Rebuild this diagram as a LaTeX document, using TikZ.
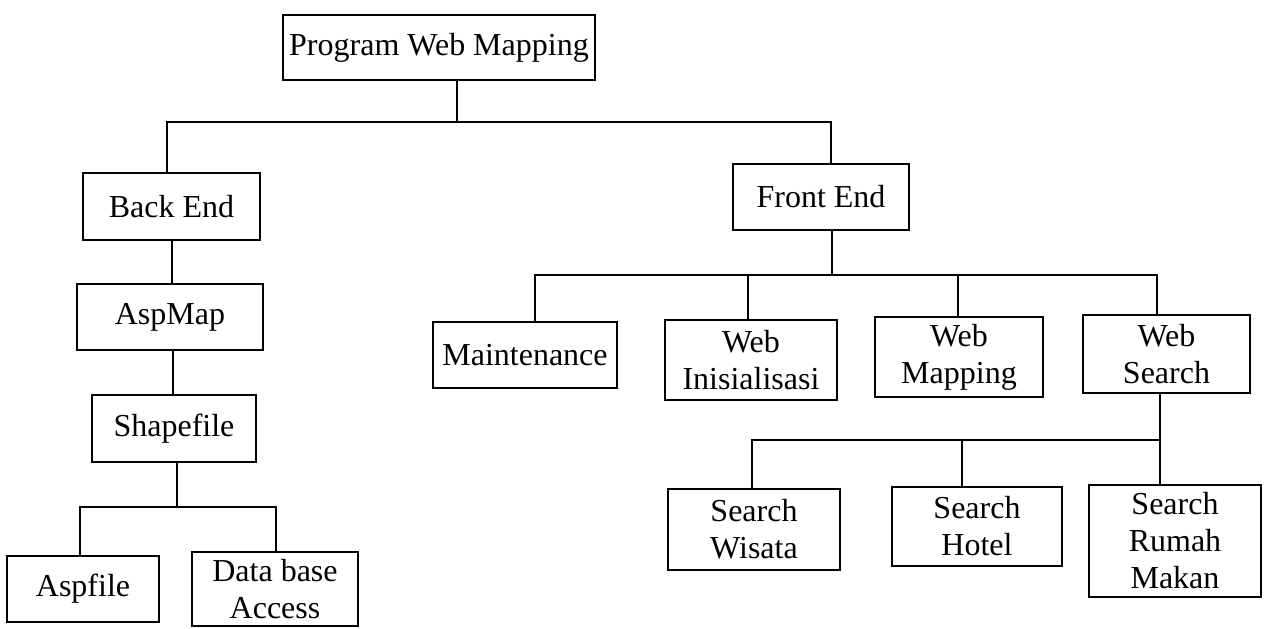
\documentclass[tikz,border=0pt]{standalone}
\usepackage{fontspec}
\setmainfont{Liberation Serif}
\usepackage{tikz}

\begin{document}
\begin{tikzpicture}[y=0.5pt, x=0.5pt, yscale=-1, inner sep=0pt, outer sep=0pt,
  box/.style={draw=black, line width=1.1pt, align=center,
    font=\fontsize{16}{18.5}\selectfont},
  wire/.style={draw=black, line width=1.1pt, line join=miter, line cap=butt}]
  \useasboundingbox (0,0) rectangle (1265,628);

  % boxes
  \node[box, minimum width=156pt, minimum height=32.5pt] (prog) at (439,47.5) {Program Web Mapping};
  \node[box, minimum width=88.5pt, minimum height=33.5pt] (backend) at (171.5,206.5) {Back End};
  \node[box, minimum width=88pt, minimum height=33pt] (frontend) at (821,197) {Front End};
  \node[box, minimum width=93pt, minimum height=33pt] (aspmap) at (170,317) {AspMap};
  \node[box, minimum width=82pt, minimum height=33.5pt] (shapefile) at (174,428.5) {Shapefile};
  \node[box, minimum width=76pt, minimum height=33pt] (aspfile) at (83,589) {Aspfile};
  \node[box, minimum width=83pt, minimum height=37pt] (database) at (275,589) {Data base\\Access};
  \node[box, minimum width=92pt, minimum height=33pt] (maint) at (525,355) {Maintenance};
  \node[box, minimum width=86pt, minimum height=40pt] (webinit) at (751,360) {Web\\Inisialisasi};
  \node[box, minimum width=84pt, minimum height=40pt] (webmap) at (959,357) {Web\\Mapping};
  \node[box, minimum width=83.5pt, minimum height=39pt] (websearch) at (1166.5,354) {Web\\Search};
  \node[box, minimum width=86pt, minimum height=40.5pt] (wisata) at (754,529.5) {Search\\Wisata};
  \node[box, minimum width=85pt, minimum height=39.5pt] (hotel) at (977,526.5) {Search\\Hotel};
  \node[box, minimum width=86pt, minimum height=56pt] (rumah) at (1175,541) {Search\\Rumah\\Makan};

  % junctions
  \coordinate (top-bus) at (457,122);
  \coordinate (top-left) at (167,122);
  \coordinate (top-right) at (831,122);
  \coordinate (front-bus) at (832,275);
  \coordinate (front-left) at (535,275);
  \coordinate (front-init) at (748,275);
  \coordinate (front-map) at (958,275);
  \coordinate (front-right) at (1157,275);
  \coordinate (search-bus) at (1160,440);
  \coordinate (search-left) at (752,440);
  \coordinate (search-mid) at (962,440);
  \coordinate (back-bus) at (177,507);
  \coordinate (back-left) at (80,507);
  \coordinate (back-right) at (276,507);

  % connectors
  \path[wire] (prog.south -| top-bus) -- (top-bus);
  \path[wire] (backend.north -| top-left) -- (top-left) -- (top-right) -- (frontend.north -| top-right);
  \path[wire] (backend.south -| 172,0) -- (aspmap.north -| 172,0);
  \path[wire] (aspmap.south -| 173,0) -- (shapefile.north -| 173,0);
  \path[wire] (shapefile.south -| back-bus) -- (back-bus);
  \path[wire] (aspfile.north -| back-left) -- (back-left) -- (back-right) -- (database.north -| back-right);
  \path[wire] (frontend.south -| front-bus) -- (front-bus);
  \path[wire] (maint.north -| front-left) -- (front-left) -- (front-right) -- (websearch.north -| front-right);
  \path[wire] (front-init) -- (webinit.north -| front-init);
  \path[wire] (front-map) -- (webmap.north -| front-map);
  \path[wire] (websearch.south -| search-bus) -- (search-bus) -- (rumah.north -| search-bus);
  \path[wire] (search-bus) -- (search-left) -- (wisata.north -| search-left);
  \path[wire] (search-mid) -- (hotel.north -| search-mid);

\end{tikzpicture}
\end{document}
